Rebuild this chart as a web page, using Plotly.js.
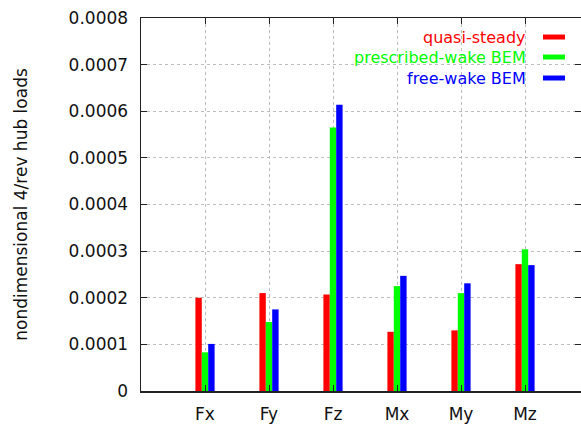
<!DOCTYPE html>
<html>
<head>
<meta charset="utf-8">
<script src="https://cdn.plot.ly/plotly-3.0.1.min.js"></script>
<style>html,body{margin:0;padding:0;background:#fff;}#chart{width:581px;height:424px;}</style>
</head>
<body>
<div id="chart"></div>
<script>
const categories = ["Fx", "Fy", "Fz", "Mx", "My", "Mz"];
const quasiSteady = [0.000200, 0.000210, 0.000207, 0.000127, 0.000130, 0.000272];
const prescribedWake = [0.000083, 0.000148, 0.000565, 0.000225, 0.000210, 0.000304];
const freeWake = [0.000101, 0.000175, 0.000614, 0.000247, 0.000231, 0.000270];
const seriesNames = ["quasi-steady", "prescribed-wake BEM", "free-wake BEM"];
const seriesColors = ["#ff0000", "#00ff00", "#0000ff"];
const yTicks = [0, 0.0001, 0.0002, 0.0003, 0.0004, 0.0005, 0.0006, 0.0007, 0.0008];

const FONT = "DejaVu Sans, sans-serif";
const allSeries = [quasiSteady, prescribedWake, freeWake];

const traces = allSeries.map((vals, i) => ({
  type: "bar",
  x: categories,
  y: vals,
  name: seriesNames[i],
  marker: {color: seriesColors[i], line: {width: 0}},
  showlegend: false,
  hoverinfo: "x+y"
}));

// gnuplot-style key: right-aligned coloured text with a sample bar on the right
const keyY = [0.949, 0.8954, 0.8391];
const annotations = seriesNames.map((n, i) => ({
  xref: "paper", yref: "paper",
  x: 0.8795, y: keyY[i],
  xanchor: "right", yanchor: "middle",
  text: n, showarrow: false,
  font: {family: FONT, size: 16, color: seriesColors[i]}
}));
const shapes = seriesNames.map((n, i) => ({
  type: "rect", xref: "paper", yref: "paper",
  x0: 0.9136, x1: 0.9636,
  y0: keyY[i] - 0.0067, y1: keyY[i] + 0.0067,
  fillcolor: seriesColors[i], line: {width: 0}
}));

const layout = {
  width: 581, height: 424,
  margin: {l: 141, r: 0, t: 18, b: 33},
  paper_bgcolor: "#ffffff", plot_bgcolor: "#ffffff",
  font: {family: FONT, size: 17, color: "#000"},
  barmode: "group",
  bargap: 0.7,
  bargroupgap: 0,
  xaxis: {
    type: "category",
    range: [-1, 5.875],
    showline: true, linecolor: "#222", linewidth: 1.5,
    mirror: "ticks",
    ticks: "inside", ticklen: 6, tickcolor: "#222", tickwidth: 1,
    showgrid: true, gridcolor: "#bdbdbd", griddash: "dot", gridwidth: 1,
    tickfont: {family: FONT, size: 17, color: "#111"},
    ticklabelstandoff: 7,
    zeroline: false
  },
  yaxis: {
    range: [0, 0.0008],
    tickmode: "array",
    tickvals: yTicks,
    tickformat: "~g",
    showline: true, linecolor: "#222", linewidth: 1.5,
    mirror: "ticks",
    ticks: "inside", ticklen: 6, tickcolor: "#222", tickwidth: 1,
    showgrid: true, gridcolor: "#bdbdbd", griddash: "dot", gridwidth: 1,
    zeroline: false,
    tickfont: {family: FONT, size: 17, color: "#111"},
    ticklabelstandoff: 8,
    automargin: false,
    title: {text: "nondimensional 4/rev hub loads", font: {family: FONT, size: 17, color: "#111"}, standoff: 36}
  },
  annotations: annotations,
  shapes: shapes
};

Plotly.newPlot("chart", traces, layout, {displayModeBar: false, staticPlot: true});
</script>
</body>
</html>
